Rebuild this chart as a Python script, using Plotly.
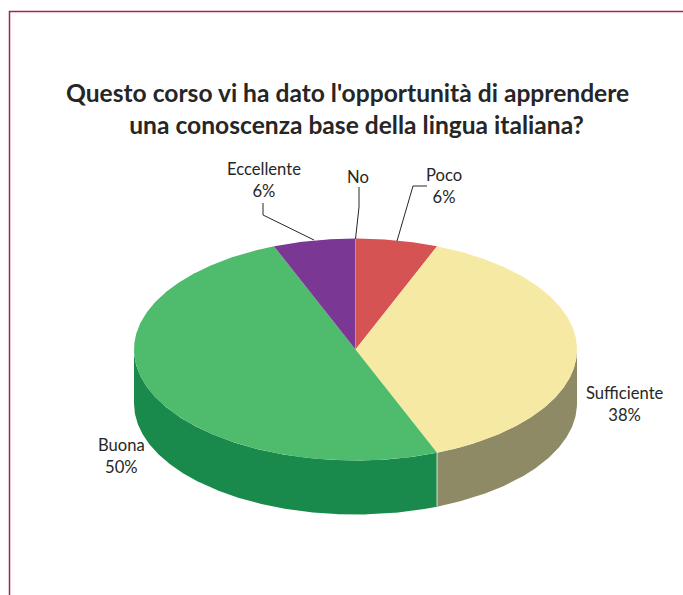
import numpy as np
import plotly.graph_objects as go

# Survey answers, clockwise from twelve o'clock
categories = ["No", "Poco", "Sufficiente", "Buona", "Eccellente"]
percent = [0, 6, 38, 50, 6]
top_colors = ["#c88aa8", "#d55353", "#f6e9a3", "#4fbb6c", "#7a3894"]
wall_colors = ["#5c2a70", "#a03e3e", "#8e8a66", "#1a8a4c", "#5c2a70"]

# The second line is nudged right with a few non-breaking spaces
title_lines = ["Questo corso vi ha dato l'opportunità di apprendere",
               "&nbsp;&nbsp;&nbsp;una conoscenza base della lingua italiana?"]

# Label anchor and leader polyline for each category
label_x = [358, 444, 625, 121, 264]
label_y = [177, 186, 404, 456, 180]
leaders = {
    "No": ([359, 359, 355.5], [187, 207, 239]),
    "Poco": ([427, 413, 397], [186, 186, 241]),
    "Eccellente": ([263, 263, 314], [203, 215, 240]),
}

# Projected disc, in page pixels
CX, CY, RX, RY, DEPTH = 355.5, 349.5, 221.5, 111, 54

TEXT = "#262626"


def rim(a0, a1, dy=0.0):
    """Points of the ellipse between two clockwise angles measured from the top."""
    t = np.radians(np.linspace(a0, a1, max(int(abs(a1 - a0) * 2), 2)))
    return CX + RX * np.sin(t), CY - RY * np.cos(t) + dy


fig = go.Figure()
edges = np.cumsum([0] + percent) * 3.6

# Outer wall: only the part facing the viewer, from 90 to 270 degrees
for i, cat in enumerate(categories):
    a0, a1 = max(edges[i], 90), min(edges[i + 1], 270)
    if a1 <= a0:
        continue
    xt, yt = rim(a0, a1)
    xb, yb = rim(a0, a1, DEPTH)
    fig.add_trace(go.Scatter(
        x=np.r_[xt, xb[::-1], xt[0]], y=np.r_[yt, yb[::-1], yt[0]],
        mode="lines", fill="toself", fillcolor=wall_colors[i],
        line=dict(width=0), name=cat, hoverinfo="name", showlegend=False))

# Top face of each slice
for i, cat in enumerate(categories):
    if percent[i] == 0:
        continue
    xr, yr = rim(edges[i], edges[i + 1])
    fig.add_trace(go.Scatter(
        x=np.r_[CX, xr, CX], y=np.r_[CY, yr, CY],
        mode="lines", fill="toself", fillcolor=top_colors[i],
        line=dict(width=0), name=f"{cat} {percent[i]}%", hoverinfo="name",
        showlegend=False))

# Zero-size slice shows up as a hairline at the top
x0, y0 = rim(0, 0.01)
fig.add_trace(go.Scatter(
    x=[CX, x0[0]], y=[CY, y0[0]], mode="lines",
    line=dict(color=top_colors[0], width=1), hoverinfo="skip", showlegend=False))

# Seam on the wall between Sufficiente and Buona
seam = edges[3]
xs, ys = rim(seam, seam + 0.01)
fig.add_trace(go.Scatter(
    x=[xs[0], xs[0]], y=[ys[0], ys[0] + DEPTH], mode="lines",
    line=dict(color="#d8dcd0", width=1), hoverinfo="skip", showlegend=False))

# Leader lines
for cat, (lx, ly) in leaders.items():
    fig.add_trace(go.Scatter(
        x=lx, y=ly, mode="lines", line=dict(color="#262626", width=1),
        hoverinfo="skip", showlegend=False))

# Slice labels
for cat, val, lx, ly in zip(categories, percent, label_x, label_y):
    text = f"{cat}<br>{val}%" if val else cat
    fig.add_annotation(x=lx, y=ly, text=text, showarrow=False, xanchor="center",
                       yanchor="middle", align="center",
                       font=dict(family="Lato", size=16.6, color=TEXT))

# Two-line heading
fig.add_annotation(x=347, y=108, text="<b>" + "<br>".join(title_lines) + "</b>",
                   showarrow=False, xanchor="center", yanchor="middle",
                   align="center",
                   font=dict(family="Lato", size=24.6, color=TEXT))

# Frame open at the right and bottom
fig.add_trace(go.Scatter(
    x=[9.5, 9.5, 683], y=[595, 11.5, 11.5], mode="lines",
    line=dict(color="#a8234f", width=1.5), hoverinfo="skip", showlegend=False))

fig.update_layout(
    width=683, height=595, margin=dict(l=0, r=0, t=0, b=0),
    paper_bgcolor="white", plot_bgcolor="white", showlegend=False,
    xaxis=dict(range=[0, 683], visible=False, fixedrange=True),
    yaxis=dict(range=[595, 0], visible=False, fixedrange=True),
)

fig.write_html("out.html", config={"displayModeBar": False})
